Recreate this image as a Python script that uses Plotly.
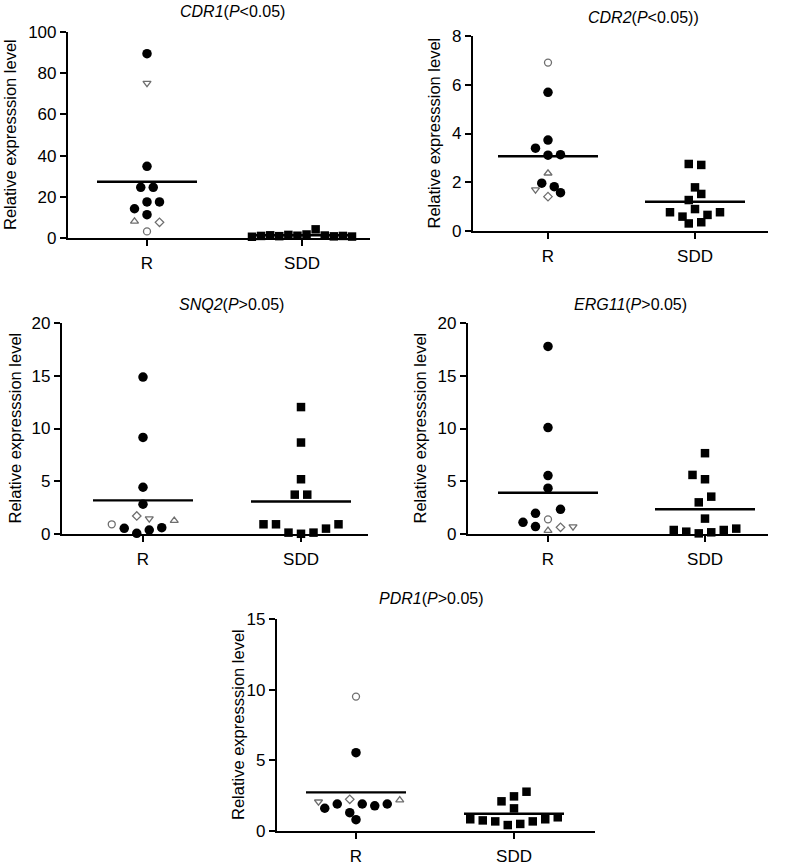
import plotly.graph_objects as go

# ---------------- data ----------------
categories = ["R", "SDD"]
y_label = "Relative expresssion level"

# kinds: f = filled circle, o = open circle, u = open up-triangle,
#        v = open down-triangle, d = open diamond
cdr1_r_vals = [3.2, 8.1, 11.3, 7.6, 14.2, 17.5, 17.5, 24.6, 24.6, 34.8, 75.2, 89.5]
cdr1_r_kind = ["o", "u", "f", "d", "f", "f", "f", "f", "f", "f", "v", "f"]
cdr1_sdd_vals = [0.6, 1.0, 1.3, 0.9, 1.5, 1.1, 1.7, 4.2, 1.2, 0.8, 1.0, 0.7]

cdr2_r_vals = [1.70, 1.41, 1.57, 1.96, 1.82, 2.37, 3.40, 3.11, 3.13, 3.73, 5.69, 6.91]
cdr2_r_kind = ["v", "d", "f", "f", "f", "u", "f", "f", "f", "f", "f", "o"]
cdr2_sdd_vals = [0.31, 0.36, 0.77, 0.59, 0.90, 0.66, 0.77, 1.27, 1.52, 1.79, 2.75, 2.71]

snq2_r_vals = [0.92, 0.54, 0.06, 0.38, 0.60, 1.27, 1.71, 1.46, 2.82, 4.43, 9.15, 14.87]
snq2_r_kind = ["o", "f", "f", "f", "f", "u", "d", "v", "f", "f", "f", "f"]
snq2_sdd_vals = [0.92, 0.92, 0.13, 0.02, 0.13, 0.51, 0.92, 3.73, 3.73, 5.19, 8.67, 12.03]

erg11_r_vals = [1.11, 0.70, 0.32, 0.63, 0.70, 1.96, 1.39, 2.34, 4.34, 5.54, 10.09, 17.78]
erg11_r_kind = ["f", "f", "u", "d", "v", "f", "o", "f", "f", "f", "f", "f"]
erg11_sdd_vals = [0.38, 0.22, 0.06, 0.16, 0.38, 0.51, 1.46, 3.00, 3.54, 5.19, 5.60, 7.66]

pdr1_r_vals = [0.80, 1.61, 1.91, 1.30, 1.91, 1.78, 1.91, 2.24, 2.07, 2.19, 5.54, 9.51]
pdr1_r_kind = ["f", "f", "f", "f", "f", "f", "f", "d", "v", "u", "f", "o"]
pdr1_sdd_vals = [0.83, 0.75, 0.68, 0.42, 0.50, 0.68, 0.83, 0.97, 1.60, 2.10, 2.45, 2.78]

titles = [
    "<i>CDR1</i>(<i>P</i>&lt;0.05)",
    "<i>CDR2</i>(<i>P</i>&lt;0.05))",
    "<i>SNQ2</i>(<i>P</i>&gt;0.05)",
    "<i>ERG11</i>(<i>P</i>&gt;0.05)",
    "<i>PDR1</i>(<i>P</i>&gt;0.05)",
]
y_max = [100, 8, 20, 20, 15]
y_step = [20, 2, 5, 5, 5]

# ---------------- layout (pixels in the 792x864 page) ----------------
W, H = 792, 864
FONT = "Liberation Sans, Arial, sans-serif"
panel_px = [
    dict(x0=68, x1=370, xr=147, xs=302, ytop=32, ybot=238, tx=232, ty=12, lx=10),
    dict(x0=473, x1=768, xr=548, xs=695, ytop=36, ybot=231, tx=643, ty=17, lx=434),
    dict(x0=62, x1=368, xr=143, xs=301, ytop=323, ybot=534, tx=231, ty=304, lx=14),
    dict(x0=468, x1=768, xr=548, xs=705, ytop=323, ybot=534, tx=630, ty=304, lx=419),
    dict(x0=277, x1=595, xr=356, xs=514, ytop=619, ybot=831, tx=431, ty=598, lx=238),
]

panels = [
    (cdr1_r_vals, cdr1_r_kind, cdr1_sdd_vals),
    (cdr2_r_vals, cdr2_r_kind, cdr2_sdd_vals),
    (snq2_r_vals, snq2_r_kind, snq2_sdd_vals),
    (erg11_r_vals, erg11_r_kind, erg11_sdd_vals),
    (pdr1_r_vals, pdr1_r_kind, pdr1_sdd_vals),
]

GRAY = "#6e6e6e"
kind_style = {
    "f": dict(symbol="circle", size=9.5, color="black", line=dict(width=0)),
    "s": dict(symbol="square", size=8.5, color="black", line=dict(width=0)),
    "o": dict(symbol="circle", size=7, color="white", line=dict(color=GRAY, width=1.3)),
    "u": dict(symbol="triangle-up", size=7, color="white", line=dict(color=GRAY, width=1.3)),
    "v": dict(symbol="triangle-down", size=7, color="white", line=dict(color=GRAY, width=1.3)),
    "d": dict(symbol="diamond", size=6.5, color="white", line=dict(color=GRAY, width=1.3)),
}


def swarm(values, ypu, bin_px=14.0, s=12.5, cap=100.0, dmin=8.5):
    """Row-based dot-plot layout: returns horizontal offsets in pixels."""
    ypx = [v * ypu for v in values]
    bins = {}
    for i, yp in enumerate(ypx):
        bins.setdefault(int(yp // bin_px), []).append(i)
    placed = []
    offs = [0.0] * len(values)
    for b in sorted(bins):
        idx = bins[b]
        m = len(idx)
        sp = s if m <= 1 else min(s, cap / (m - 1))
        for j, i in enumerate(idx):
            ideal = (j - (m - 1) / 2.0) * sp
            x = ideal
            for k in range(60):
                step = ((k + 1) // 2) * (-1 if k % 2 == 1 else 1)
                x = ideal + step * sp / 2.0
                if all((x - px) ** 2 + (ypx[i] - py) ** 2 >= dmin ** 2 for px, py in placed):
                    break
            offs[i] = x
            placed.append((x, ypx[i]))
    return offs


fig = go.Figure()
annotations = []
for n, ((r_vals, r_kind, sdd_vals), p) in enumerate(zip(panels, panel_px), start=1):
    xa = "x" if n == 1 else f"x{n}"
    ya = "y" if n == 1 else f"y{n}"
    ppx = p["xs"] - p["xr"]
    ypu = (p["ybot"] - p["ytop"]) / y_max[n - 1]
    xlo = (p["x0"] - p["xr"]) / ppx
    xhi = (p["x1"] - p["xr"]) / ppx
    hw = 50.0 / ppx

    # mean lines
    for g, vals in ((0, r_vals), (1, sdd_vals)):
        m = sum(vals) / len(vals)
        fig.add_trace(go.Scatter(x=[g - hw, g + hw], y=[m, m], mode="lines",
                                 line=dict(color="black", width=2.4),
                                 xaxis=xa, yaxis=ya, hoverinfo="skip", cliponaxis=False))

    # R group
    r_off = swarm(r_vals, ypu)
    for kind in ["f", "o", "u", "v", "d"]:
        xs = [0 + r_off[i] / ppx for i in range(len(r_vals)) if r_kind[i] == kind]
        ys = [r_vals[i] for i in range(len(r_vals)) if r_kind[i] == kind]
        if xs:
            fig.add_trace(go.Scatter(x=xs, y=ys, mode="markers", marker=kind_style[kind],
                                     xaxis=xa, yaxis=ya, cliponaxis=False))
    # SDD group
    s_off = swarm(sdd_vals, ypu)
    fig.add_trace(go.Scatter(x=[1 + o / ppx for o in s_off], y=sdd_vals, mode="markers",
                             marker=kind_style["s"], xaxis=xa, yaxis=ya, cliponaxis=False))

    xkey = "xaxis" if n == 1 else f"xaxis{n}"
    ykey = "yaxis" if n == 1 else f"yaxis{n}"
    fig.update_layout({
        xkey: dict(domain=[p["x0"] / W, p["x1"] / W], range=[xlo, xhi], anchor=ya,
                   automargin=False,
                   showline=True, linecolor="black", linewidth=2.2, showgrid=False, zeroline=False,
                   tickvals=[0, 1], ticktext=categories, ticks="outside", ticklen=6,
                   tickwidth=2, tickcolor="black", ticklabelstandoff=2,
                   tickfont=dict(family=FONT, size=17, color="black")),
        ykey: dict(domain=[1 - p["ybot"] / H, 1 - p["ytop"] / H], range=[0, y_max[n - 1]],
                   anchor=xa, automargin=False,
                   showline=True, linecolor="black", linewidth=2.2, showgrid=False,
                   zeroline=False,
                   tickvals=list(range(0, y_max[n - 1] + 1, y_step[n - 1])),
                   ticks="outside", ticklen=6, tickwidth=2, tickcolor="black",
                   tickfont=dict(family=FONT, size=17, color="black")),
    })
    annotations.append(dict(text=titles[n - 1], xref="paper", yref="paper",
                            x=p["tx"] / W, y=1 - p["ty"] / H, xanchor="center", yanchor="middle",
                            showarrow=False, font=dict(family=FONT, size=16, color="black")))
    annotations.append(dict(text=y_label, xref="paper", yref="paper", textangle=-90,
                            x=p["lx"] / W, y=1 - (p["ytop"] + p["ybot"]) / 2 / H,
                            xanchor="center", yanchor="middle", showarrow=False,
                            font=dict(family=FONT, size=16.5, color="black")))

fig.update_layout(template="none", width=W, height=H, margin=dict(l=0, r=0, t=0, b=0, pad=0),
                  autosize=False, font=dict(family=FONT, color="black"),
                  paper_bgcolor="white", plot_bgcolor="white", showlegend=False,
                  annotations=annotations)

page_fix = (
    "var d=document.getElementById('{plot_id}');"
    "d.style.position='absolute';d.style.left='0px';d.style.top='0px';"
    "document.body.style.margin='0';"
    "document.documentElement.style.overflow='hidden';"
    "document.body.style.overflow='hidden';"
)
fig.write_html("out.html", config={"displayModeBar": False}, post_script=page_fix)
